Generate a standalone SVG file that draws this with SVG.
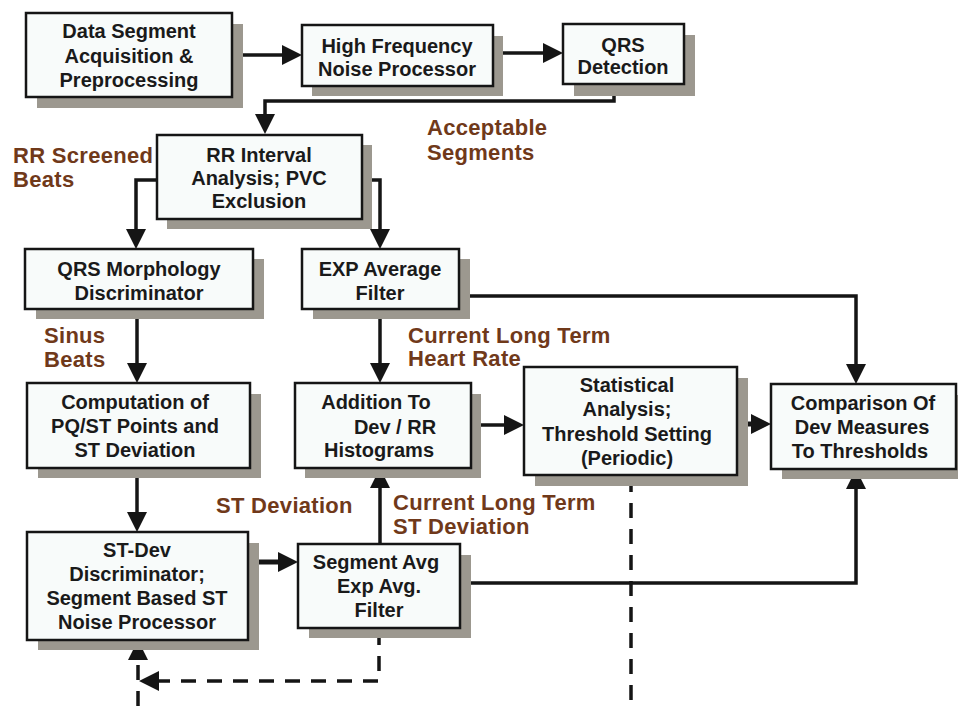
<svg xmlns="http://www.w3.org/2000/svg" width="958" height="706" viewBox="0 0 958 706">
<defs>
<style>
.sh{fill:#9c988f;}
.bx{fill:#f8fbfa;stroke:#151515;stroke-width:2.5;}
.t{font-family:"Liberation Sans",Arial,Helvetica,sans-serif;font-weight:bold;font-size:20px;fill:#1a1a1a;text-anchor:middle;}
.lb{font-family:"Liberation Sans",Arial,Helvetica,sans-serif;font-weight:bold;font-size:22px;letter-spacing:0.3px;fill:#70391a;}
.ln{fill:none;stroke:#151515;stroke-width:3.5;}
.th{stroke-width:5;}
.ds{fill:none;stroke:#151515;stroke-width:3.5;stroke-dasharray:15 11;}
</style>
<marker id="ah" markerUnits="userSpaceOnUse" markerWidth="20" markerHeight="20" refX="0" refY="10" orient="auto" overflow="visible">
<path d="M0,0 L20,10 L0,20 z" fill="#151515"/>
</marker>
</defs>
<rect width="958" height="706" fill="#ffffff"/>

<g id="connectors">
<path class="ln" d="M232,55 H282" marker-end="url(#ah)"/>
<path class="ln" d="M493,53 H543" marker-end="url(#ah)"/>
<path class="ln" d="M614,84 V101 H265 V114" marker-end="url(#ah)"/>
<path class="ln" d="M157,180 H136 V229" marker-end="url(#ah)"/>
<path class="ln" d="M362,180 H380 V229" marker-end="url(#ah)"/>
<path class="ln" d="M137,309 V363" marker-end="url(#ah)"/>
<path class="ln" d="M380,309 V363" marker-end="url(#ah)"/>
<path class="ln" d="M459,296 H856 V364" marker-end="url(#ah)"/>
<path class="ln" d="M471,425 H504" marker-end="url(#ah)"/>
<path class="ln th" d="M737,424 H751" marker-end="url(#ah)"/>
<path class="ln" d="M137,468 V512" marker-end="url(#ah)"/>
<path class="ln th" d="M248,562 H278" marker-end="url(#ah)"/>
<path class="ln" d="M380,544 V488" marker-end="url(#ah)"/>
<path class="ln" d="M460,583 H856 V489" marker-end="url(#ah)"/>
<path class="ds" d="M379,630 V681 H159" marker-end="url(#ah)"/>
<path class="ds" d="M138,706 V660" marker-end="url(#ah)"/>
<path class="ds" d="M631,477 V706"/>
</g>

<g id="node-data-segment">
<rect class="sh" x="37" y="24" width="206" height="84"/>
<rect class="bx" x="26" y="13" width="206" height="84"/>
<text class="t" x="129" y="38">Data Segment</text>
<text class="t" x="129" y="63">Acquisition &amp;</text>
<text class="t" x="129" y="87">Preprocessing</text>
</g>

<g id="node-high-frequency">
<rect class="sh" x="312" y="36" width="191" height="60"/>
<rect class="bx" x="302" y="25" width="191" height="61"/>
<text class="t" x="397" y="53">High Frequency</text>
<text class="t" x="397" y="76">Noise Processor</text>
</g>

<g id="node-qrs-detection">
<rect class="sh" x="574" y="35" width="121" height="61"/>
<rect class="bx" x="563" y="24" width="121" height="60"/>
<text class="t" x="623" y="52">QRS</text>
<text class="t" x="623" y="74">Detection</text>
</g>

<g id="node-rr-interval">
<rect class="sh" x="167" y="145" width="205" height="84"/>
<rect class="bx" x="157" y="135" width="205" height="84"/>
<text class="t" x="259" y="162">RR Interval</text>
<text class="t" x="259" y="185">Analysis; PVC</text>
<text class="t" x="259" y="208">Exclusion</text>
</g>

<g id="node-qrs-morphology">
<rect class="sh" x="36" y="259" width="228" height="60"/>
<rect class="bx" x="25" y="249" width="228" height="60"/>
<text class="t" x="139" y="276">QRS Morphology</text>
<text class="t" x="139" y="300">Discriminator</text>
</g>

<g id="node-exp-average">
<rect class="sh" x="313" y="259" width="157" height="60"/>
<rect class="bx" x="302" y="249" width="157" height="60"/>
<text class="t" x="380" y="276">EXP Average</text>
<text class="t" x="380" y="300">Filter</text>
</g>

<g id="node-computation">
<rect class="sh" x="38" y="394" width="223" height="84"/>
<rect class="bx" x="27" y="383" width="223" height="85"/>
<text class="t" x="135" y="409">Computation of</text>
<text class="t" x="135" y="433">PQ/ST Points and</text>
<text class="t" x="135" y="457">ST Deviation</text>
</g>

<g id="node-addition">
<rect class="sh" x="305" y="394" width="176" height="84"/>
<rect class="bx" x="295" y="383" width="176" height="85"/>
<text class="t" x="376" y="409">Addition To</text>
<text class="t" x="395" y="434">Dev / RR</text>
<text class="t" x="379" y="457">Histograms</text>
</g>

<g id="node-statistical">
<rect class="sh" x="535" y="378" width="213" height="108"/>
<rect class="bx" x="524" y="367" width="213" height="108"/>
<text class="t" x="627" y="392">Statistical</text>
<text class="t" x="627" y="416">Analysis;</text>
<text class="t" x="627" y="441">Threshold Setting</text>
<text class="t" x="627" y="465">(Periodic)</text>
</g>

<g id="node-comparison">
<rect class="sh" x="782" y="395" width="190" height="84"/>
<rect class="bx" x="771" y="384" width="185" height="85"/>
<text class="t" x="863" y="410">Comparison Of</text>
<text class="t" x="862" y="434">Dev Measures</text>
<text class="t" x="860" y="458">To Thresholds</text>
</g>

<g id="node-st-dev">
<rect class="sh" x="38" y="543" width="221" height="107"/>
<rect class="bx" x="27" y="532" width="221" height="108"/>
<text class="t" x="137" y="557">ST-Dev</text>
<text class="t" x="137" y="581">Discriminator;</text>
<text class="t" x="137" y="605">Segment Based ST</text>
<text class="t" x="137" y="629">Noise Processor</text>
</g>

<g id="node-segment-avg">
<rect class="sh" x="309" y="555" width="162" height="83"/>
<rect class="bx" x="298" y="544" width="162" height="84"/>
<text class="t" x="376" y="569">Segment Avg</text>
<text class="t" x="379" y="593">Exp Avg.</text>
<text class="t" x="379" y="617">Filter</text>
</g>

<g id="labels">
<text class="lb" x="427" y="135">Acceptable</text>
<text class="lb" x="427" y="160">Segments</text>
<text class="lb" x="13" y="163">RR Screened</text>
<text class="lb" x="13" y="187">Beats</text>
<text class="lb" x="44" y="343">Sinus</text>
<text class="lb" x="44" y="367">Beats</text>
<text class="lb" x="408" y="343">Current Long Term</text>
<text class="lb" x="408" y="366">Heart Rate</text>
<text class="lb" x="216" y="513">ST Deviation</text>
<text class="lb" x="393" y="510">Current Long Term</text>
<text class="lb" x="393" y="534">ST Deviation</text>
</g>
</svg>
